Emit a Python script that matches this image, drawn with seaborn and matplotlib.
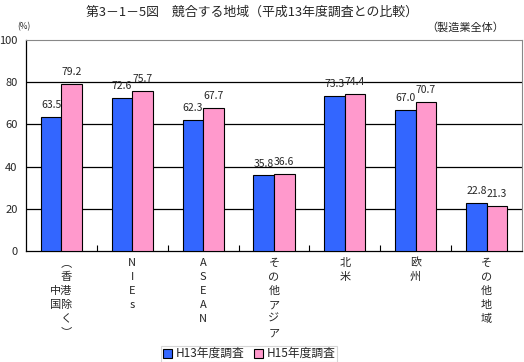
import matplotlib
matplotlib.use("Agg")
import matplotlib.pyplot as plt
import seaborn as sns
import pandas as pd
from matplotlib.ticker import FixedLocator

categories = ["中国（香港除く）", "NIEs", "ASEAN", "その他アジア", "北米", "欧州", "その他地域"]
tick_labels = ["\u3000︵\n\u3000香\n中港\n国除\n\u3000く\n\u3000︶",
               "N\nI\nE\ns", "A\nS\nE\nA\nN", "そ\nの\n他\nア\nジ\nア",
               "北\n米", "欧\n州", "そ\nの\n他\n地\n域"]
series = ["H13年度調査", "H15年度調査"]
h13 = [63.5, 72.6, 62.3, 35.8, 73.3, 67.0, 22.8]
h15 = [79.2, 75.7, 67.7, 36.6, 74.4, 70.7, 21.3]
y_ticks = [0, 20, 40, 60, 80, 100]

sns.set_theme(style="white")
plt.rcParams['font.family'] = ['Noto Sans CJK JP', 'DejaVu Sans']

df = pd.DataFrame({
    "region": categories * 2,
    "series": [series[0]] * 7 + [series[1]] * 7,
    "value": h13 + h15,
})

fig = plt.figure(figsize=(5.24, 3.62), dpi=100)
ax = fig.add_axes([26/524, 1 - 251/362, 496/524, 211/362])

palette = {series[0]: "#3366FF", series[1]: "#FF99CC"}
sns.barplot(data=df, x="region", y="value", hue="series", order=categories,
            hue_order=series, palette=palette, width=0.58, gap=0,
            edgecolor="black", linewidth=0.8, saturation=1, ax=ax, zorder=3)

ax.set_ylim(0, 100)
ax.set_xlim(-0.5, 6.5)
ax.set_yticks(y_ticks)
ax.set_yticklabels([str(v) for v in y_ticks], fontsize=8)
ax.tick_params(axis="y", length=0, pad=6)
ax.set_xticks(range(7))
ax.set_xticklabels(tick_labels, fontsize=8, linespacing=1.5, va="top")
ax.tick_params(axis="x", length=0, pad=5)
ax.xaxis.set_minor_locator(FixedLocator([i + 0.5 for i in range(6)]))
ax.tick_params(axis="x", which="minor", direction="in", length=4, width=0.8, color="black", bottom=True)
ax.set_xlabel("")
ax.set_ylabel("")

for v in [20, 40, 60, 80]:
    ax.axhline(v, color="black", lw=0.9, zorder=1)

for s in ["left", "bottom"]:
    ax.spines[s].set_color("black")
    ax.spines[s].set_linewidth(0.9)
ax.spines["top"].set_color("#888888")
ax.spines["top"].set_linestyle((0, (1, 1)))
ax.spines["top"].set_linewidth(0.8)
ax.spines["right"].set_color("#888888")
ax.spines["right"].set_linewidth(0.8)

for cont in ax.containers:
    ax.bar_label(cont, fmt="%.1f", fontsize=7.5, padding=5)

leg = ax.legend(loc="upper center", bbox_to_anchor=(0.45, -0.42), ncol=2,
                fontsize=8.5, frameon=True, handlelength=0.8, handleheight=0.8,
                handletextpad=0.3, columnspacing=0.8, borderpad=0.15,
                fancybox=False, edgecolor="#cccccc")
leg.get_frame().set_linewidth(0.8)

fig.text(252/524, 1 - 12/362, "第3－1－5図　競合する地域（平成13年度調査との比較）",
         ha="center", va="center", fontsize=9.3)
fig.text(24/524, 1 - 27/362, "(%)", ha="center", va="center", fontsize=6)
fig.text(465/524, 1 - 27/362, "（製造業全体）", ha="center", va="center", fontsize=8)

fig.savefig("out.png", dpi=100)
